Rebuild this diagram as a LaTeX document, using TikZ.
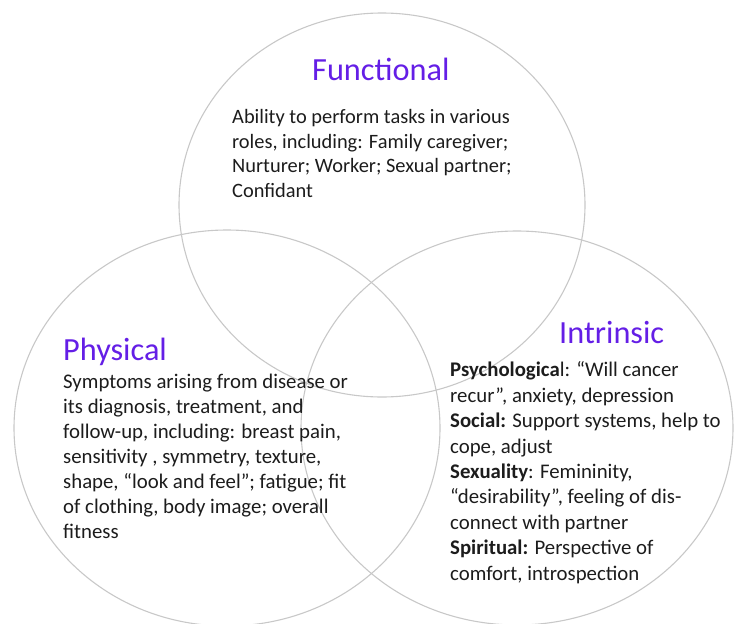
\documentclass[tikz,border=0pt]{standalone}
\usepackage{fontspec}
\setmainfont{Carlito}
\usepackage{xcolor}
\usetikzlibrary{positioning}

\definecolor{ringgray}{RGB}{200,200,200}
\definecolor{headviolet}{RGB}{100,30,230}
\definecolor{bodyink}{RGB}{28,28,28}

\begin{document}
\begin{tikzpicture}[x=1pt,y=-1pt,
	ring/.style={draw=ringgray,line width=1.1pt},
	head/.style={text=headviolet,font=\fontsize{32.3}{38}\selectfont,inner sep=0pt,anchor=base west},
	body/.style={text=bodyink,font=\fontsize{20.8}{25.2}\selectfont,align=left,inner sep=0pt,anchor=base west}]
			\useasboundingbox (0,0) rectangle (742,624);
			% three overlapping rings
			\draw[ring] (382,205) ellipse [x radius=203, y radius=192];
			\draw[ring] (227,428) ellipse [x radius=213, y radius=198];
			\draw[ring] (517,428) ellipse [x radius=216, y radius=197];

			% headings
			\node[head] (functional) at (312,80) {Functional};
			\node[head] (physical) at (63,360) {Physical};
			\node[head] (intrinsic) at (559,343) {Intrinsic};

			% text blocks (placed by the baseline of their last line)
			\node[body,font=\fontsize{20.4}{24.4}\selectfont] (funcbody) at (232,197) {Ability to perform tasks in various\\
				roles, including: Family caregiver;\\
				Nurturer; Worker; Sexual partner;\\
				Confidant};
			\node[body,font=\fontsize{20.8}{25}\selectfont] (physbody) at (63,538) {Symptoms arising from disease or\\
				its diagnosis, treatment, and\\
				follow-up, including: breast pain,\\
				sensitivity , symmetry, texture,\\
				shape, “look and feel”; fatigue; fit\\
				of clothing, body image; overall\\
				fitness};
			\node[body,font=\fontsize{20.8}{25.4}\selectfont] (intrbody) at (450,580) {\textbf{Psychologica}l: “Will cancer\\
				recur”, anxiety, depression\\
				\textbf{Social:} Support systems, help to\\
				cope, adjust\\
				\textbf{Sexuality}: Femininity,\\
				“desirability”, feeling of dis-\\
				connect with partner\\
				\textbf{Spiritual:} Perspective of\\
				comfort, introspection};
\end{tikzpicture}
\end{document}
